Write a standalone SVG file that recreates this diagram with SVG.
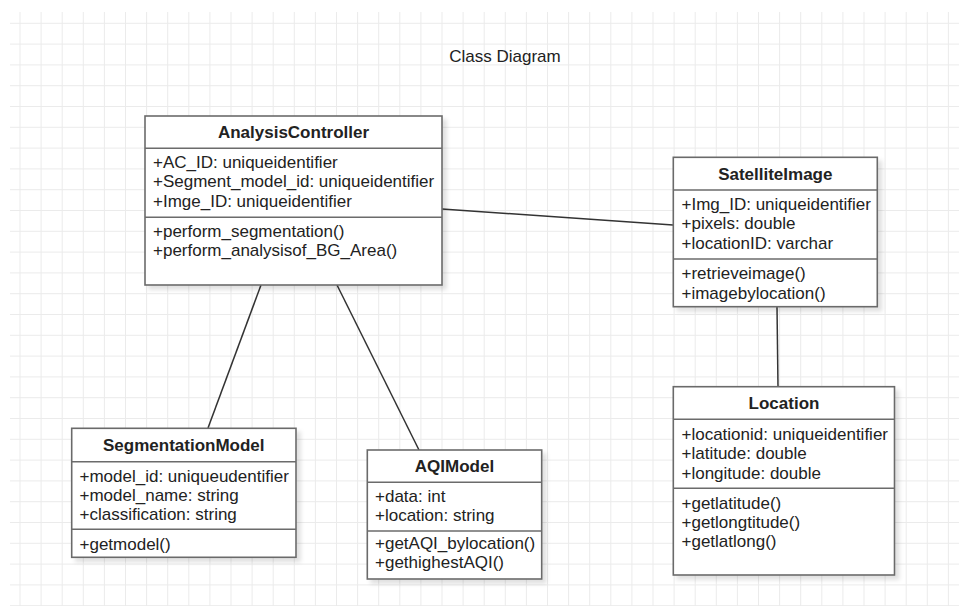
<svg xmlns="http://www.w3.org/2000/svg" width="959" height="606" viewBox="0 0 959 606">
<style>
.grid{stroke:#ebebeb;stroke-width:1;fill:none}
.box{fill:#fff;stroke:#6b6b6b;stroke-width:1.6}
.div{stroke:#6b6b6b;stroke-width:1.6}
.conn{stroke:#333;stroke-width:1.5;fill:none}
text{font-family:"Liberation Sans",Arial,Helvetica,sans-serif;font-size:17px;fill:#222}
.t{font-weight:bold;text-anchor:middle}
.cap{text-anchor:middle}
</style>
<defs>
<filter id="sh" x="-10%" y="-10%" width="130%" height="130%">
<feDropShadow dx="4" dy="4" stdDeviation="2" flood-color="#000" flood-opacity="0.12"/>
</filter>
</defs>
<rect width="959" height="606" fill="#fff"/>
<g id="grid">
<path class="grid" d="M20 12V606M41.1 12V606M62.2 12V606M83.3 12V606M104.4 12V606M125.5 12V606M146.6 12V606M167.7 12V606M188.8 12V606M209.9 12V606M231 12V606M252.1 12V606M273.2 12V606M294.3 12V606M315.4 12V606M336.5 12V606M357.6 12V606M378.7 12V606M399.8 12V606M420.9 12V606M442 12V606M463.1 12V606M484.2 12V606M505.3 12V606M526.4 12V606M547.5 12V606M568.6 12V606M589.7 12V606M610.8 12V606M631.9 12V606M653 12V606M674.1 12V606M695.2 12V606M716.3 12V606M737.4 12V606M758.5 12V606M779.6 12V606M800.7 12V606M821.8 12V606M842.9 12V606M864 12V606M885.1 12V606M906.2 12V606M927.3 12V606M948.4 12V606"/>
<path class="grid" d="M10 23.3H959M10 44.1H959M10 64.9H959M10 85.7H959M10 106.5H959M10 127.3H959M10 148.1H959M10 168.9H959M10 189.7H959M10 210.5H959M10 231.3H959M10 252.1H959M10 272.9H959M10 293.7H959M10 314.5H959M10 335.3H959M10 356.1H959M10 376.9H959M10 397.7H959M10 418.5H959M10 439.3H959M10 460.1H959M10 480.9H959M10 501.7H959M10 522.5H959M10 543.3H959M10 564.1H959M10 584.9H959M10 605.7H959"/>
</g>
<text id="title" class="cap" x="505" y="62">Class Diagram</text>
<g id="connectors">
<line class="conn" x1="442" y1="209" x2="673" y2="225"/>
<line class="conn" x1="261" y1="285" x2="208" y2="428"/>
<line class="conn" x1="337" y1="285" x2="419" y2="450"/>
<line class="conn" x1="777" y1="307" x2="778" y2="387"/>
</g>
<g id="AnalysisController">
<rect class="box" x="145" y="116" width="297" height="169" filter="url(#sh)"/>
<line class="div" x1="145" y1="148.3" x2="442" y2="148.3"/>
<line class="div" x1="145" y1="217.3" x2="442" y2="217.3"/>
<text class="t" x="293.5" y="138">AnalysisController</text>
<text x="153" y="168">+AC_ID: uniqueidentifier</text>
<text x="153" y="187.3">+Segment_model_id: uniqueidentifier</text>
<text x="153" y="206.6">+Imge_ID: uniqueidentifier</text>
<text x="153" y="236.7">+perform_segmentation()</text>
<text x="153" y="256">+perform_analysisof_BG_Area()</text>
</g>
<g id="SatelliteImage">
<rect class="box" x="673.3" y="157.3" width="204" height="149.4" filter="url(#sh)"/>
<line class="div" x1="673.3" y1="190" x2="877.3" y2="190"/>
<line class="div" x1="673.3" y1="259" x2="877.3" y2="259"/>
<text class="t" x="775.3" y="180">SatelliteImage</text>
<text x="681.5" y="210">+Img_ID: uniqueidentifier</text>
<text x="681.5" y="229.3">+pixels: double</text>
<text x="681.5" y="248.6">+locationID: varchar</text>
<text x="681.5" y="279.3">+retrieveimage()</text>
<text x="681.5" y="298.6">+imagebylocation()</text>
</g>
<g id="Location">
<rect class="box" x="673.3" y="386.7" width="221.2" height="188.3" filter="url(#sh)"/>
<line class="div" x1="673.3" y1="419.3" x2="894.5" y2="419.3"/>
<line class="div" x1="673.3" y1="488.3" x2="894.5" y2="488.3"/>
<text class="t" x="784" y="408.5">Location</text>
<text x="681.5" y="440">+locationid: uniqueidentifier</text>
<text x="681.5" y="459.3">+latitude: double</text>
<text x="681.5" y="478.6">+longitude: double</text>
<text x="681.5" y="508.5">+getlatitude()</text>
<text x="681.5" y="527.8">+getlongtitude()</text>
<text x="681.5" y="547.1">+getlatlong()</text>
</g>
<g id="SegmentationModel">
<rect class="box" x="71.7" y="428.3" width="224.3" height="129" filter="url(#sh)"/>
<line class="div" x1="71.7" y1="461.7" x2="296" y2="461.7"/>
<line class="div" x1="71.7" y1="529.3" x2="296" y2="529.3"/>
<text class="t" x="183.8" y="450.7">SegmentationModel</text>
<text x="79.5" y="481.7">+model_id: uniqueudentifier</text>
<text x="79.5" y="501">+model_name: string</text>
<text x="79.5" y="520.3">+classification: string</text>
<text x="79.5" y="550">+getmodel()</text>
</g>
<g id="AQIModel">
<rect class="box" x="367.3" y="450" width="174.4" height="129" filter="url(#sh)"/>
<line class="div" x1="367.3" y1="482.3" x2="541.7" y2="482.3"/>
<line class="div" x1="367.3" y1="531" x2="541.7" y2="531"/>
<text class="t" x="454.5" y="471.7">AQIModel</text>
<text x="375" y="501.7">+data: int</text>
<text x="375" y="521">+location: string</text>
<text x="375" y="548.5">+getAQI_bylocation()</text>
<text x="375" y="567.8">+gethighestAQI()</text>
</g>
</svg>
